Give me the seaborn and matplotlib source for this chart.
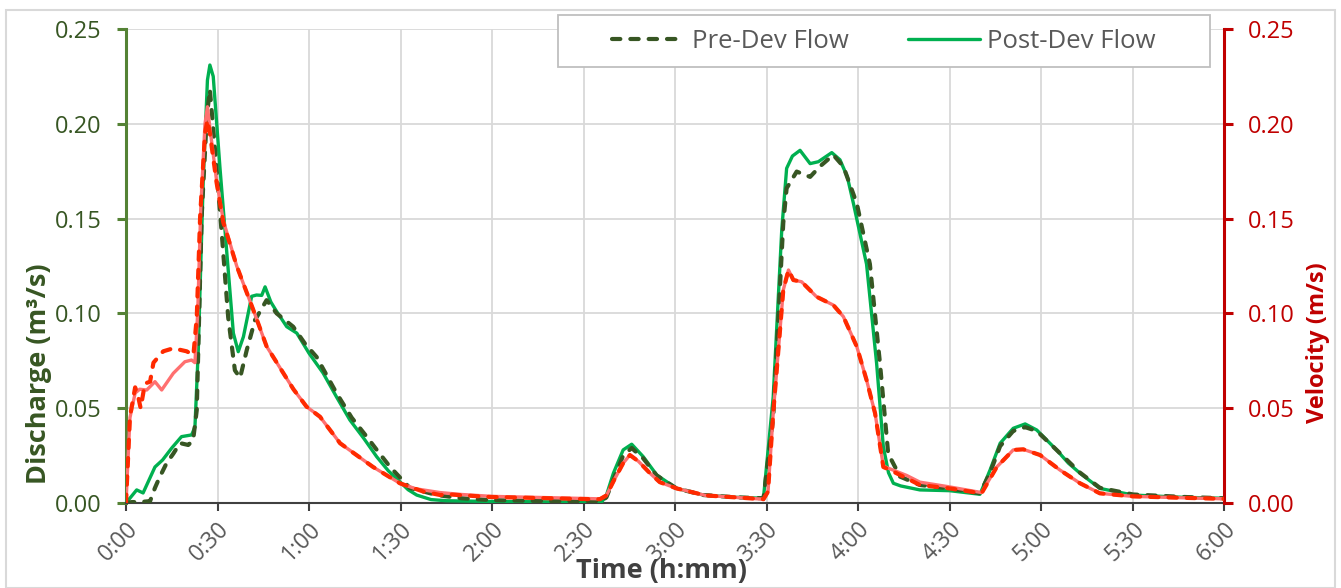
import matplotlib
matplotlib.use("Agg")
import matplotlib.pyplot as plt
import seaborn as sns
import numpy as np
from matplotlib.lines import Line2D
from matplotlib.patches import Rectangle

# ---------------- data (time in minutes) ----------------
pre_t = [0, 2, 4.6, 7.9, 9.5, 11, 13.3, 15.5, 17.7, 20.4, 22, 23.2, 24.8, 26.5, 27.5, 29.2, 31.4, 33.5,
         35.7, 37.4, 39.6, 42.3, 46.1, 49.4, 54.8, 58.7, 62.5, 69, 74, 78.9, 82.7, 86.6, 93, 101.9, 110,
         120, 140, 156, 157.5, 160, 163, 165.8, 169.6, 174, 180.5, 189.3, 200, 209, 212.2, 215.5, 216.6,
         219.9, 224.3, 227.5, 231.9, 235.2, 239.6, 243.9, 247.2, 249.9, 253.8, 260.3, 270, 280, 283.3,
         286.6, 290.9, 294.8, 298.6, 305.1, 312.8, 319.3, 330.2, 346.6, 360]
pre_flow = [0, 0.0005, 0.0005, 0.001, 0.008, 0.0135, 0.021, 0.026, 0.0316, 0.0306, 0.033, 0.049, 0.151,
            0.204, 0.218, 0.186, 0.142, 0.098, 0.070, 0.066, 0.0807, 0.0965, 0.107, 0.100, 0.093, 0.084,
            0.077, 0.058, 0.045, 0.035, 0.027, 0.019, 0.008, 0.0042, 0.0025, 0.0015, 0.001, 0.001, 0.003,
            0.013, 0.025, 0.029, 0.0235, 0.0145, 0.0077, 0.0042, 0.003, 0.0025, 0.045, 0.1477, 0.166,
            0.1748, 0.172, 0.1775, 0.1836, 0.1775, 0.158, 0.126, 0.0737, 0.026, 0.0139, 0.0095, 0.0077,
            0.0051, 0.016, 0.030, 0.038, 0.040, 0.038, 0.028, 0.016, 0.008, 0.0045, 0.0032, 0.0025]

post_t = [0, 3.5, 5.6, 9.5, 12, 15, 18.2, 21.5, 22.6, 23.7, 25.3, 26.7, 27.5, 28.6, 30.8, 33, 35.2, 36.8,
          38.5, 41.2, 42.8, 44.5, 45.6, 47.5, 49.4, 52.7, 56, 60, 64.6, 69, 73.4, 78, 82.2, 86, 89.8, 92.5,
          95.3, 100, 105, 120, 140, 156, 157.5, 159.8, 163, 165.8, 169.6, 174, 180.5, 189.3, 200, 209,
          212.2, 215, 216.6, 218.5, 221, 224.3, 227, 231.4, 234.1, 236.5, 238.5, 242.8, 246.1, 248.3, 250,
          251.6, 254, 260.3, 270, 280, 283.3, 286.6, 290.9, 294.8, 298.6, 302, 305.1, 309, 312.8, 319.3,
          330.2, 346.6, 360]
post_flow = [0, 0.0069, 0.0053, 0.019, 0.0227, 0.029, 0.035, 0.0359, 0.040, 0.0807, 0.169, 0.223, 0.231,
             0.225, 0.177, 0.133, 0.0896, 0.0798, 0.0877, 0.109, 0.1097, 0.1095, 0.114, 0.106, 0.101,
             0.093, 0.0896, 0.079, 0.0686, 0.056, 0.0438, 0.034, 0.0244, 0.017, 0.0112, 0.007, 0.0042,
             0.0018, 0.0012, 0.0008, 0.0006, 0.0006, 0.004, 0.0157, 0.028, 0.031, 0.0244, 0.0148, 0.0077,
             0.0042, 0.003, 0.0025, 0.056, 0.144, 0.1765, 0.183, 0.186, 0.179, 0.180, 0.1848, 0.181, 0.172,
             0.158, 0.126, 0.0737, 0.0297, 0.016, 0.0104, 0.009, 0.0069, 0.0065, 0.0046, 0.0174, 0.0315,
             0.0394, 0.0417, 0.0385, 0.033, 0.028, 0.021, 0.0157, 0.0077, 0.0042, 0.003, 0.0025]

vpre_t = [0, 1.3, 3, 4, 4.8, 6.2, 7.9, 9, 12.2, 15.5, 19.9, 22.1, 23.2, 24.3, 25.9, 26.7, 27.5, 29.7, 31.9,
          36.3, 41.7, 46.1, 54.9, 59.2, 63.6, 70.2, 81, 89.8, 97.5, 103, 106, 119, 150, 155.4, 157.5, 160,
          163, 165.2, 168, 171.8, 175, 180.5, 190, 209, 210.5, 212.2, 215.5, 217.2, 218.8, 221.5, 226.4,
          231.9, 235.2, 239.6, 242.8, 245.6, 248.3, 250.5, 256, 260.3, 270, 280.5, 285.5, 290.9, 294.2,
          299.7, 306.2, 312.8, 319.3, 330, 345, 360]
pre_vel = [0, 0.0455, 0.061, 0.056, 0.050, 0.063, 0.064, 0.074, 0.080, 0.0816, 0.080, 0.078, 0.098, 0.151,
           0.195, 0.202, 0.195, 0.169, 0.148, 0.125, 0.102, 0.0826, 0.060, 0.0508, 0.0455, 0.0315, 0.019,
           0.0104, 0.006, 0.0042, 0.0045, 0.0032, 0.0021, 0.002, 0.004, 0.012, 0.021, 0.0253, 0.022, 0.0157,
           0.011, 0.0077, 0.004, 0.002, 0.006, 0.0473, 0.1123, 0.1229, 0.1176, 0.1167, 0.1088, 0.1044,
           0.0983, 0.0825, 0.0649, 0.0473, 0.019, 0.0174, 0.013, 0.0095, 0.0077, 0.0051, 0.019, 0.028,
           0.0283, 0.0253, 0.0174, 0.0104, 0.0051, 0.0035, 0.0028, 0.0022]

vpost_t = [0, 1.3, 3, 4.5, 6.8, 9.5, 11.7, 15.5, 19.3, 21.5, 22.6, 23.5, 24.5, 25.9, 26.7, 27.5, 29.7, 31.9,
           36.3, 41.7, 46.1, 54.9, 59.2, 63.6, 70.2, 81, 89.8, 95, 103, 110, 120, 150, 155.4, 157.5, 160,
           163, 165.2, 168, 171.8, 175, 180.5, 190, 209, 210.5, 212.2, 215.5, 217.2, 218.8, 221.5, 226.4,
           231.9, 235.2, 239.6, 242.8, 245.6, 248.3, 250.5, 256, 260.3, 270, 280.5, 285.5, 290.9, 294.2,
           299.7, 306.2, 312.8, 319.3, 330, 345, 360]
post_vel = [0, 0.045, 0.058, 0.060, 0.0596, 0.064, 0.0596, 0.0684, 0.0745, 0.0754, 0.074, 0.10, 0.155,
            0.200, 0.209, 0.198, 0.170, 0.149, 0.125, 0.102, 0.0826, 0.060, 0.0508, 0.0455, 0.0315, 0.019,
            0.0104, 0.0075, 0.0055, 0.0045, 0.0035, 0.0024, 0.0022, 0.004, 0.012, 0.021, 0.0253, 0.022,
            0.0157, 0.011, 0.0077, 0.004, 0.002, 0.006, 0.0473, 0.1123, 0.1229, 0.1176, 0.1167, 0.1088,
            0.1044, 0.0983, 0.0825, 0.0649, 0.0473, 0.0195, 0.018, 0.0145, 0.011, 0.0085, 0.0055, 0.019,
            0.028, 0.0283, 0.0253, 0.0174, 0.0104, 0.0051, 0.0035, 0.0028, 0.0022]

x_ticks = list(range(0, 361, 30))
x_ticklabels = ["0:00", "0:30", "1:00", "1:30", "2:00", "2:30", "3:00", "3:30", "4:00", "4:30", "5:00",
                "5:30", "6:00"]
y_ticks = [0.0, 0.05, 0.10, 0.15, 0.20, 0.25]
y_ticklabels = ["0.00", "0.05", "0.10", "0.15", "0.20", "0.25"]
legend_labels = ["Pre-Dev Flow", "Post-Dev Flow"]

# ---------------- style ----------------
sns.set_style("white")
plt.rcParams['font.family'] = ['Open Sans', 'DejaVu Sans']

C_POST = "#00B050"
C_PRE = "#375623"
C_VPRE = "#FF2A00"
C_VPOST = "#FF7070"
C_LEFT = "#548235"
C_LEFT_TXT = "#375623"
C_RIGHT = "#C00000"

W, H = 1341, 588
fig = plt.figure(figsize=(W / 100, H / 100), dpi=100)
fig.patch.set_facecolor("white")
ax = fig.add_axes([126 / W, 1 - 503 / H, (1224 - 126) / W, (503 - 29) / H])
ax2 = ax.twinx()

# primary axis: discharge
sns.lineplot(x=post_t, y=post_flow, ax=ax, color=C_POST, linewidth=2.4, sort=False,
             estimator=None, zorder=3)
sns.lineplot(x=pre_t, y=pre_flow, ax=ax, color=C_PRE, linewidth=3.0, sort=False, estimator=None,
             linestyle=(0, (2.0, 2.4)), dash_capstyle="round", zorder=4)
# secondary axis: velocity
sns.lineplot(x=vpost_t, y=post_vel, ax=ax2, color=C_VPOST, linewidth=2.4, sort=False,
             estimator=None, zorder=3)
sns.lineplot(x=vpre_t, y=pre_vel, ax=ax2, color=C_VPRE, linewidth=3.0, sort=False, estimator=None,
             linestyle=(0, (2.0, 2.4)), dash_capstyle="round", zorder=4)

for a in (ax, ax2):
    a.set_xlim(0, 360)
    a.set_ylim(0, 0.25)
    a.set_xlabel("")
    a.set_ylabel("")

ax.set_xticks(x_ticks)
ax.set_xticklabels(x_ticklabels, rotation=45, ha="right", rotation_mode="anchor")
ax.set_yticks(y_ticks)
ax.set_yticklabels(y_ticklabels)
ax2.set_yticks(y_ticks)
ax2.set_yticklabels(y_ticklabels)

ax.set_axisbelow(True)
ax.grid(True, color="#D9D9D9", linewidth=1.3)

for s in ("top", "right"):
    ax.spines[s].set_visible(False)
for s in ("top", "left", "bottom"):
    ax2.spines[s].set_visible(False)
ax.spines["left"].set_color(C_LEFT)
ax.spines["left"].set_linewidth(2.2)
ax.spines["bottom"].set_color("#404040")
ax.spines["bottom"].set_linewidth(1.5)
ax2.spines["right"].set_color(C_RIGHT)
ax2.spines["right"].set_linewidth(2.2)

ax.tick_params(axis="y", length=6.5, width=2.2, color=C_LEFT, labelcolor=C_LEFT_TXT, labelsize=17,
               pad=11, left=True)
ax.tick_params(axis="x", length=6, width=1.5, color="#404040", labelcolor="#595959", labelsize=16.5,
               pad=4, bottom=True)
ax2.tick_params(axis="y", length=6.5, width=2.2, color=C_RIGHT, labelcolor=C_RIGHT, labelsize=17,
                pad=11, right=True)

# axis titles
fig.text(39 / W, 1 - 374 / H, "Discharge (m³/s)", rotation=90, ha="center", va="center",
         fontsize=19.5, fontweight="bold", color=C_LEFT_TXT)
fig.text(1318 / W, 1 - 343 / H, "Velocity (m/s)", rotation=90, ha="center", va="center",
         fontsize=17, fontweight="bold", color=C_RIGHT)
fig.text(662 / W, 1 - 571 / H, "Time (h:mm)", ha="center", va="center", fontsize=19.5,
         fontweight="bold", color="#404040")

# legend with a white box
box = Rectangle((558 / W, 1 - 67 / H), (1210 - 558) / W, 52 / H, transform=fig.transFigure,
                facecolor="white", edgecolor="#BFBFBF", linewidth=1.3, zorder=10, clip_on=False)
ax2.add_patch(box)
handles = [Line2D([0], [0], color=C_PRE, linewidth=3.0, linestyle=(0, (2.0, 2.4)),
                  dash_capstyle="round"),
           Line2D([0], [0], color=C_POST, linewidth=2.4)]
leg = ax2.legend(handles, legend_labels, loc="center", bbox_to_anchor=(884 / W, 1 - 41 / H),
                 bbox_transform=fig.transFigure, ncol=2, frameon=False, fontsize=18.5,
                 handlelength=2.8, columnspacing=2.3, handletextpad=0.3, labelcolor="#595959")
leg.set_zorder(11)

# outer chart border
fig.patches.append(Rectangle((6 / W, 0.5 / H), (1335 - 6) / W, (578 - 0.5) / H,
                             transform=fig.transFigure, facecolor="none", edgecolor="#D9D9D9",
                             linewidth=1.5, zorder=0))

fig.savefig("out.png", dpi=100, facecolor="white")
